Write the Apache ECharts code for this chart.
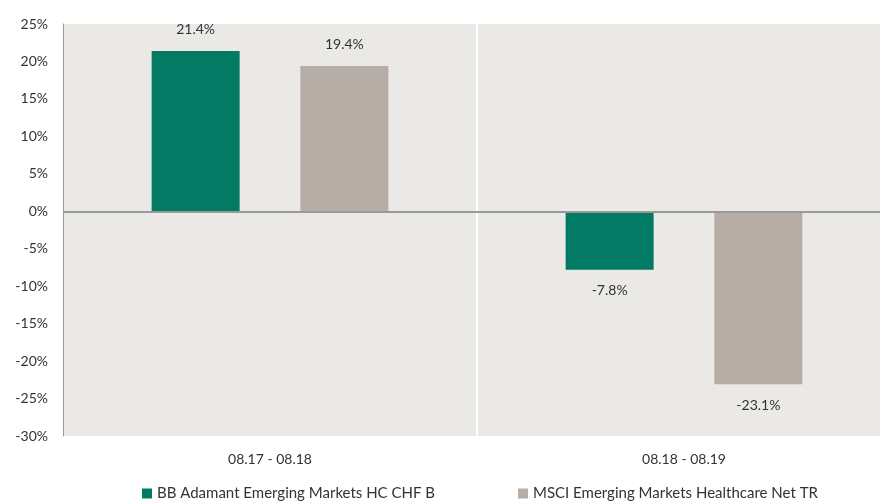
<!DOCTYPE html>
<html><head><meta charset="utf-8">
<script src="https://cdn.jsdelivr.net/npm/echarts@6/dist/echarts.min.js"></script>
<style>html,body{margin:0;padding:0;background:#fff}#c{width:880px;height:504px}</style>
</head><body><div id="c"></div>
<script>
const categories = ['08.17 - 08.18', '08.18 - 08.19'];
const seriesNames = ['BB Adamant Emerging Markets HC CHF B', 'MSCI Emerging Markets Healthcare Net TR'];
const fundValues = [21.4, -7.8];
const indexValues = [19.4, -23.1];
const yTicks = {min: -30, max: 25, interval: 5};

const font = 'Lato';
const chart = echarts.init(document.getElementById('c'), null, {renderer: 'canvas'});
function lbl(v){ return v.toFixed(1) + '%'; }
function mkSeries(name, vals, color, withZero){
  const s = {
    name: name, type: 'bar', barWidth: 88, barGap: '69%',
    data: vals.map(v => ({value: v, label: {position: v >= 0 ? 'top' : 'bottom'}})),
    itemStyle: {color: color},
    label: {show: true, distance: 14, color: '#333', fontFamily: font, fontSize: 14,
      formatter: p => lbl(p.value)},
    emphasis: {disabled: true}
  };
  if (withZero) {
    s.markLine = {silent: true, symbol: 'none', label: {show: false},
      lineStyle: {color: '#999', width: 2, type: 'solid'}, data: [{yAxis: 0}]};
  }
  return s;
}
chart.setOption({
  animation: false,
  backgroundColor: '#fff',
  textStyle: {fontFamily: font},
  grid: {left: 63, right: -11, top: 24, bottom: 68, show: true, backgroundColor: '#ebe9e5', borderWidth: 0,
    outerBoundsMode: 'none', containLabel: false},
  legend: [
    {data: [seriesNames[0]], left: 142, top: 486, padding: 0, itemWidth: 10, itemHeight: 10, icon: 'rect',
     textStyle: {color: '#333', fontSize: 15, fontFamily: font}},
    {data: [seriesNames[1]], left: 518, top: 486, padding: 0, itemWidth: 10, itemHeight: 10, icon: 'rect',
     textStyle: {color: '#333', fontSize: 15, fontFamily: font}}
  ],
  xAxis: {type: 'category', data: categories,
    axisLine: {show: false}, axisTick: {show: false},
    axisLabel: {color: '#333', fontSize: 14, fontFamily: font, margin: 16},
    splitLine: {show: true, lineStyle: {color: '#fff', width: 2}}},
  yAxis: {type: 'value', min: yTicks.min, max: yTicks.max, interval: yTicks.interval,
    axisLine: {show: true, lineStyle: {color: '#999', width: 1}}, axisTick: {show: false},
    splitLine: {show: false},
    axisLabel: {color: '#333', fontSize: 14, fontFamily: font, margin: 15, formatter: v => v + '%'}},
  series: [mkSeries(seriesNames[0], fundValues, '#037a64', true), mkSeries(seriesNames[1], indexValues, '#b6ada7', false)]
});
</script></body></html>
